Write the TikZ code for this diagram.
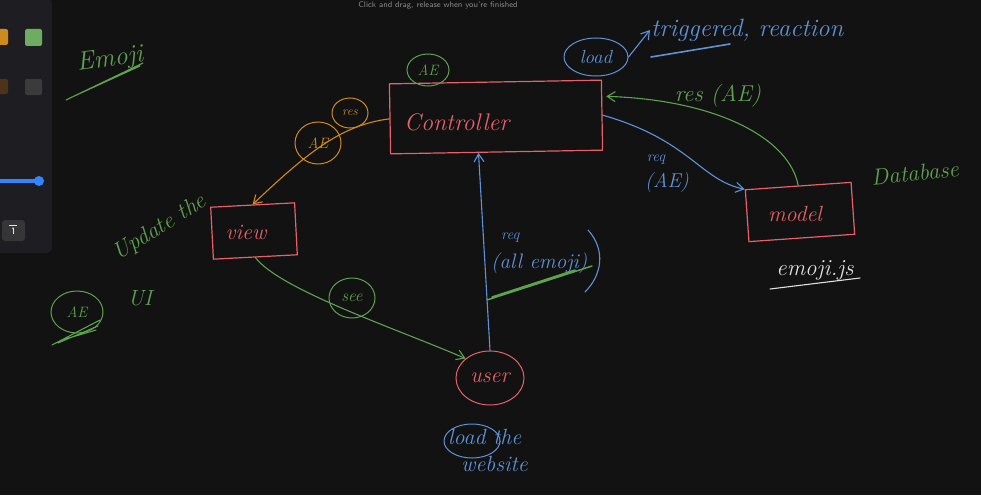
\documentclass[tikz,border=0pt]{standalone}
\usetikzlibrary{arrows.meta,shapes.geometric}
\definecolor{bg}{HTML}{121212}
\definecolor{panel}{HTML}{1E1E22}
\definecolor{hred}{HTML}{E8606A}
\definecolor{hgreen}{HTML}{5DA34F}
\definecolor{hblue}{HTML}{5E93DA}
\definecolor{horange}{HTML}{CF8A1E}
\definecolor{hwhite}{HTML}{E0E0E0}
\definecolor{hgray}{HTML}{8A8A8A}
\tikzset{
  hand/.style={font=\itshape\fontsize{#1}{#1}\selectfont, inner sep=1pt},
  hand/.default=20,
  boxnode/.style={draw=hred, line width=1.2pt, minimum width=#1, inner sep=0pt},
  stroke/.style={line width=1.1pt, line cap=round, line join=round},
  arr/.style={stroke, -{Straight Barb[length=8pt,width=10pt,line width=1.1pt]}},
  ring/.style={draw, ellipse, line width=1pt},
}
\begin{document}
\begin{tikzpicture}[x=1pt,y=-1pt]
\fill[bg] (0,0) rectangle (981,495);
\useasboundingbox (0,0) rectangle (981,495);
\begin{scope}
\clip (0,0) rectangle (981,495);
% left tool panel
\fill[panel, rounded corners=6pt] (-10,-2) rectangle (52,253);
\fill[horange, rounded corners=2pt] (-6,29) rectangle (8,45);
\fill[hgreen!90!white, rounded corners=2pt] (25,29) rectangle (42,46);
\fill[brown!40!black, rounded corners=2pt] (-6,79) rectangle (8,94);
\fill[gray!30!panel, rounded corners=2pt] (25,79) rectangle (42,95);
\fill[blue!60!cyan!80!white] (-5,179) rectangle (39,183);
\fill[blue!60!cyan!80!white] (39,181) circle (5);
\fill[gray!25!panel, rounded corners=3pt] (2,220) rectangle (25,241);
\draw[white!80!gray, line width=0.6pt] (9,225) -- (17,225);
\draw[white!80!gray, line width=0.6pt, -{Stealth[length=2pt]}] (13,234) -- (13,227);
\end{scope}
\node[font=\sffamily\fontsize{8.2}{9}\selectfont, text=hgray] (hint) at (438,5) {Click and drag, release when you're finished};

% boxes
\node[boxnode=212, minimum height=70, rotate=1] (ctrl) at (496,117) {};
\node[hand=24, text=hred, anchor=west] (ctrlt) at (403,122) {Controller};
\node[boxnode=106, minimum height=52, rotate=4] (model) at (800,212) {};
\node[hand=22, text=hred] (modelt) at (795,214) {model};
\node[boxnode=84, minimum height=52, rotate=3] (view) at (254,231) {};
\node[hand=22, text=hred] (viewt) at (246,232) {view};
\node[ring, draw=hred, minimum width=68, minimum height=54, hand=22, text=hred] (user) at (490,378) {user};

% labels
\node[hand=26, text=hgreen, rotate=8] (emoji) at (110,60) {Emoji};
\draw[hgreen, stroke] (66,100) -- (143,63) (70,98) -- (140,66);
\node[ring, draw=hgreen, hand=15, text=hgreen, minimum width=42, minimum height=32] (ae1) at (428,70) {AE};
\node[ring, draw=horange, hand=13, text=horange, minimum width=36, minimum height=30] (res1) at (350,113) {res};
\node[ring, draw=horange, hand=15, text=horange, minimum width=46, minimum height=42] (ae2) at (318,143) {AE};
\node[ring, draw=hblue, hand=19, text=hblue, minimum width=64, minimum height=38] (load1) at (596,57) {load};
\node[hand=25, text=hblue, anchor=west] (trig) at (650,30) {triggered, reaction};
\draw[hblue, stroke, line width=1.6pt] (651,57) -- (730,44);
\node[hand=23, text=hgreen] (res2) at (718,96) {res (AE)};
\node[hand=15, text=hblue] (req1a) at (656,160) {req};
\node[hand=20, text=hblue] (req1b) at (667,183) {(AE)};
\node[hand=23, text=hgreen, rotate=6] (db) at (915,173) {Database};
\node[hand=23, text=hwhite] (ejs) at (815,270) {emoji.js};
\draw[hwhite, stroke] (770,289) -- (860,278);
\node[hand=23, text=hgreen, rotate=32] (upd) at (160,228) {Update the};
\node[hand=22, text=hgreen] (ui) at (140,298) {UI};
\node[ring, draw=hgreen, hand=15, text=hgreen, minimum width=52, minimum height=42] (ae3) at (77,312) {AE};
\draw[hgreen, stroke] (52,345) -- (100,320) (58,343) -- (98,326) (62,340) -- (96,330);
\node[ring, draw=hgreen, hand=17, text=hgreen, minimum width=46, minimum height=40] (see) at (352,298) {see};
\node[hand=15, text=hblue, anchor=west] (req2a) at (500,238) {req};
\node[hand=21, text=hblue, anchor=west] (req2b) at (490,263) {(all emoji)};
\draw[hblue, stroke] (588,230) .. controls (606,250) and (602,275) .. (585,292);
\draw[hgreen, stroke, line width=1.5pt] (487,300) -- (592,266) (492,297) -- (575,270);
\node[hand=22, text=hblue, anchor=west] (web1) at (447,437) {load the};
\node[hand=22, text=hblue, anchor=west] (web2) at (460,464) {website};
\draw[hblue, line width=1pt] (472,441) ellipse (28 and 17);

% connectors
\draw[horange, arr] (ctrl.west) .. controls (340,125) and (305,155) .. (view.north);
\draw[hgreen, arr] (model.north) .. controls (790,140) and (720,100) .. ([xshift=4pt]ctrl.10);
\draw[hblue, arr] (ctrl.east) .. controls (690,140) and (700,180) .. (model.north west);
\draw[hblue, arr] (user.north) -- (ctrl.243);
\draw[hgreen, arr] (view.south) .. controls (280,290) and (400,330) .. (user.north west);
\draw[hblue, arr] (load1.east) -- (trig.west);
\end{tikzpicture}
\end{document}
